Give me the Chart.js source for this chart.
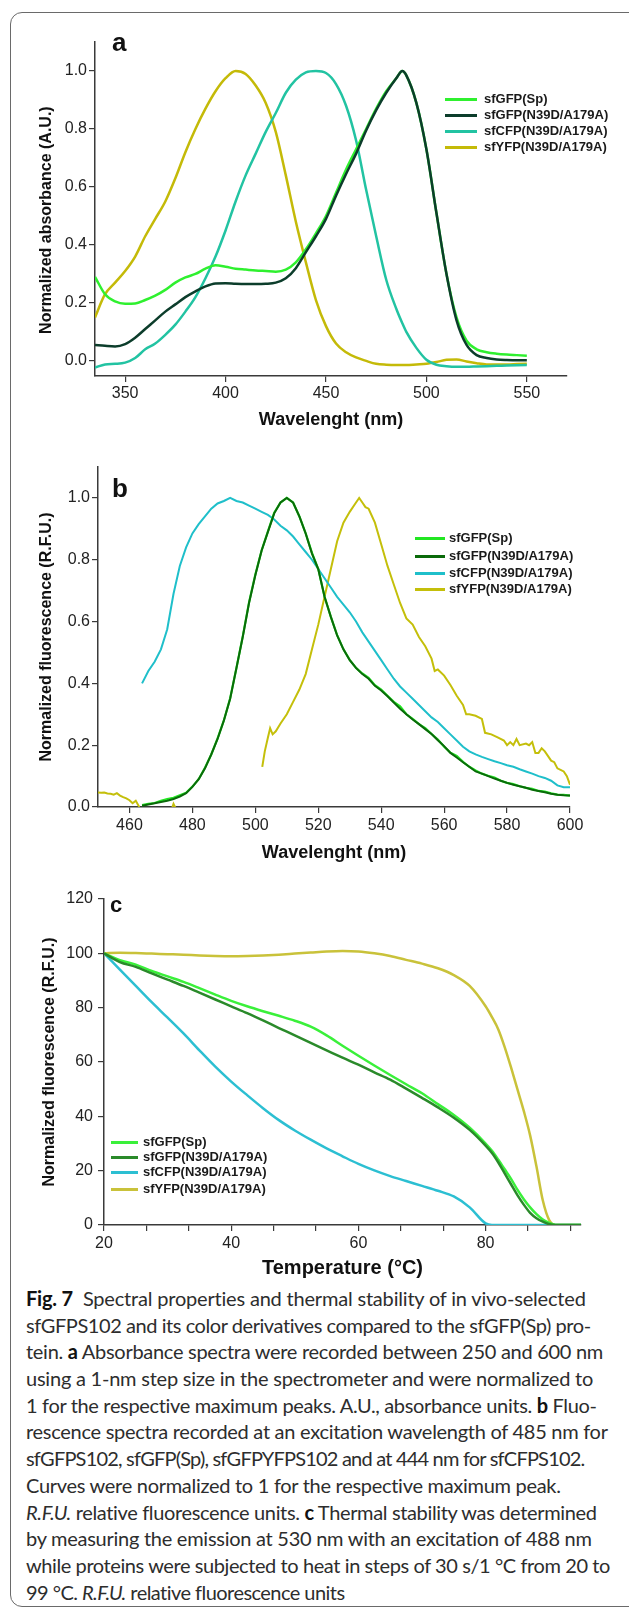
<!DOCTYPE html>
<html>
<head>
<meta charset="utf-8">
<script src="https://cdn.jsdelivr.net/npm/chart.js@4.4.1/dist/chart.umd.min.js"></script>
<style>
  html, body { margin: 0; padding: 0; background: #fff; }
  #page { position: relative; width: 629px; height: 1609px; overflow: hidden; background: #fff; }
  #frame { position: absolute; left: 10px; top: 12px; width: 650px; height: 1595px; border: 1.5px solid #6a6a6a; border-radius: 12px; box-sizing: border-box; }
  canvas { position: absolute; left: 0; }
  .letter { position: absolute; font-family: 'Liberation Sans', Arial, sans-serif; font-weight: bold; line-height: 1; color: #111; }
  .legend-row { position: absolute; height: 16px; white-space: nowrap; font-family: 'Liberation Sans', Arial, sans-serif; font-weight: bold; font-size: 13px; line-height: 16px; color: #1a1a1a; }
  .swatch { position: absolute; top: 6.5px; height: 3px; }
  #caption { position: absolute; left: 26px; top: 1285px; font-family: Lato, sans-serif; font-size: 20px; line-height: 26.7px; color: #2d2d2d; white-space: nowrap; }
  #caption div { height: 26.7px; }
  #caption span.ln { display: inline-block; }
  #caption b { color: #111; }
</style>
</head>
<body>
<div id="page">
  <div id="frame"></div>
  <canvas id="chartA" width="629" height="431" style="top:0px"></canvas>
  <canvas id="chartB" width="629" height="434" style="top:430px"></canvas>
  <canvas id="chartC" width="629" height="416" style="top:864px"></canvas>
  <div class="letter" style="left:112px; top:29px; font-size:26px;">a</div>
  <div class="letter" style="left:112px; top:475px; font-size:26px;">b</div>
  <div class="letter" style="left:110px; top:894px; font-size:22px;">c</div>
  <div id="legends"></div>
  <div id="caption">
    <div><span class="ln"><b>Fig. 7</b>&nbsp; Spectral properties and thermal stability of in vivo-selected</span></div>
    <div><span class="ln">sfGFPS102 and its color derivatives compared to the sfGFP(Sp) pro-</span></div>
    <div><span class="ln">tein. <b>a</b> Absorbance spectra were recorded between 250 and 600 nm</span></div>
    <div><span class="ln">using a 1-nm step size in the spectrometer and were normalized to</span></div>
    <div><span class="ln">1 for the respective maximum peaks. A.U., absorbance units. <b>b</b> Fluo-</span></div>
    <div><span class="ln">rescence spectra recorded at an excitation wavelength of 485 nm for</span></div>
    <div><span class="ln">sfGFPS102, sfGFP(Sp), sfGFPYFPS102 and at 444 nm for sfCFPS102.</span></div>
    <div><span class="ln">Curves were normalized to 1 for the respective maximum peak.</span></div>
    <div><span class="ln"><i>R.F.U.</i> relative fluorescence units. <b>c</b> Thermal stability was determined</span></div>
    <div><span class="ln">by measuring the emission at 530 nm with an excitation of 488 nm</span></div>
    <div><span class="ln">while proteins were subjected to heat in steps of 30 s/1 °C from 20 to</span></div>
    <div><span class="ln">99 °C. <i>R.F.U.</i> relative fluorescence units</span></div>
  </div>
</div>
<script>
// series names (same four in every panel)
const seriesNames = ['sfGFP(Sp)', 'sfGFP(N39D/A179A)', 'sfCFP(N39D/A179A)', 'sfYFP(N39D/A179A)'];

// ---- panel a: absorbance ----
const absWave = [335, 340, 345, 350, 355, 360, 365, 370, 375, 380, 385, 390, 395, 400, 405, 410, 415, 420, 425, 430,
  435, 440, 445, 450, 455, 460, 465, 470, 475, 480, 485, 488, 490, 495, 500, 505, 510, 515, 520, 525, 530, 535, 540, 545, 550];
const absGfpSp = [0.29, 0.23, 0.205, 0.197, 0.198, 0.21, 0.225, 0.245, 0.27, 0.288, 0.30, 0.318, 0.33, 0.325, 0.318, 0.315, 0.312, 0.31, 0.308, 0.315,
  0.34, 0.385, 0.44, 0.50, 0.58, 0.66, 0.73, 0.80, 0.87, 0.93, 0.975, 1.0, 0.985, 0.89, 0.73, 0.51, 0.30, 0.15, 0.07, 0.04, 0.03, 0.025, 0.022, 0.02, 0.018];
const absGfpN39D = [0.055, 0.052, 0.05, 0.058, 0.08, 0.11, 0.14, 0.17, 0.195, 0.22, 0.24, 0.257, 0.267, 0.268, 0.266, 0.265, 0.265, 0.266, 0.27, 0.285,
  0.32, 0.375, 0.43, 0.49, 0.57, 0.645, 0.715, 0.795, 0.865, 0.925, 0.975, 1.0, 0.985, 0.89, 0.73, 0.51, 0.30, 0.14, 0.055, 0.02, 0.01, 0.005, 0.003, 0.002, 0.002];
const absCfp = [-0.023, -0.012, -0.01, -0.006, 0.01, 0.04, 0.06, 0.09, 0.125, 0.17, 0.22, 0.285, 0.36, 0.45, 0.55, 0.64, 0.715, 0.79, 0.855, 0.925,
  0.97, 0.995, 1.0, 0.993, 0.955, 0.88, 0.76, 0.59, 0.43, 0.28, 0.18, 0.13, 0.10, 0.045, 0.004, -0.013, -0.018, -0.02, -0.02, -0.019, -0.018, -0.017, -0.016, -0.015, -0.014];
const absYfp = [0.15, 0.23, 0.27, 0.31, 0.36, 0.43, 0.49, 0.55, 0.63, 0.72, 0.80, 0.87, 0.93, 0.975, 1.0, 0.99, 0.95, 0.89, 0.79, 0.64,
  0.48, 0.34, 0.21, 0.12, 0.06, 0.03, 0.012, 0.0, -0.01, -0.013, -0.014, -0.014, -0.014, -0.012, -0.01, -0.004, 0.004, 0.005, -0.002, -0.008, -0.012, -0.012, -0.012, -0.011, -0.01];
const absYTicks = [0, 0.2, 0.4, 0.6, 0.8, 1.0];
const absXTicks = [350, 400, 450, 500, 550];

// ---- panel b: fluorescence ----
const fluoWaveGfp = [464, 466, 468, 470, 472, 474, 476, 478, 480, 482, 484, 486, 488, 490, 492, 494, 496, 498, 500, 502,
  504, 506, 508, 510, 512, 514, 516, 518, 520, 522, 524, 526, 528, 530, 532, 534, 536, 538, 540, 542,
  544, 546, 548, 550, 552, 554, 556, 558, 560, 562, 564, 566, 568, 570, 572, 574, 576, 578, 580, 582,
  584, 586, 588, 590, 592, 594, 596, 598, 600];
const fluoGfpSp = [0.006, 0.01, 0.013, 0.02, 0.026, 0.03, 0.038, 0.046, 0.066, 0.09, 0.127, 0.17, 0.222, 0.28, 0.352, 0.45, 0.552, 0.662, 0.752, 0.83,
  0.892, 0.952, 0.985, 1.0, 0.985, 0.94, 0.885, 0.822, 0.77, 0.68, 0.615, 0.556, 0.51, 0.476, 0.45, 0.432, 0.418, 0.394, 0.38, 0.36,
  0.34, 0.326, 0.30, 0.285, 0.268, 0.255, 0.236, 0.218, 0.195, 0.176, 0.165, 0.146, 0.13, 0.118, 0.108, 0.101, 0.095, 0.085, 0.078, 0.074,
  0.067, 0.062, 0.059, 0.052, 0.05, 0.044, 0.04, 0.039, 0.037];
const fluoGfpN39D = [0.004, 0.008, 0.012, 0.016, 0.02, 0.026, 0.034, 0.045, 0.065, 0.09, 0.125, 0.17, 0.22, 0.28, 0.35, 0.45, 0.55, 0.66, 0.75, 0.83,
  0.89, 0.95, 0.985, 1.0, 0.985, 0.94, 0.885, 0.82, 0.77, 0.68, 0.615, 0.555, 0.51, 0.475, 0.45, 0.43, 0.415, 0.392, 0.377, 0.358,
  0.338, 0.318, 0.30, 0.283, 0.268, 0.252, 0.236, 0.216, 0.197, 0.175, 0.16, 0.145, 0.13, 0.115, 0.108, 0.1, 0.092, 0.085, 0.078, 0.072,
  0.067, 0.062, 0.056, 0.052, 0.048, 0.043, 0.04, 0.038, 0.037];
const fluoWaveCfp = [464, 466, 468, 470, 472, 474, 476, 478, 480, 482, 484, 486, 488, 490, 492, 494, 496, 498, 500, 502,
  504, 506, 508, 510, 512, 514, 516, 518, 520, 522, 524, 526, 528, 530, 532, 534, 536, 538, 540, 542,
  544, 546, 548, 550, 552, 554, 556, 558, 560, 562, 564, 566, 568, 570, 572, 574, 576, 578, 580, 582,
  584, 586, 588, 590, 592, 594, 596, 598, 600];
const fluoCfp = [0.40, 0.44, 0.47, 0.51, 0.575, 0.69, 0.78, 0.84, 0.885, 0.915, 0.94, 0.965, 0.982, 0.99, 1.0, 0.99, 0.985, 0.975, 0.965, 0.955,
  0.945, 0.93, 0.91, 0.895, 0.875, 0.85, 0.825, 0.80, 0.77, 0.74, 0.71, 0.68, 0.655, 0.63, 0.60, 0.565, 0.535, 0.505, 0.475, 0.445,
  0.415, 0.39, 0.37, 0.35, 0.33, 0.31, 0.29, 0.275, 0.255, 0.235, 0.215, 0.195, 0.18, 0.17, 0.162, 0.155, 0.148, 0.142, 0.135, 0.13,
  0.122, 0.115, 0.108, 0.10, 0.094, 0.085, 0.07, 0.064, 0.064];
const fluoWaveYfp = [450, 451, 452, 453, 454, 455, 456, 457, 458, 459, 460, 461, 462, 463, 463.5, 464,
  473, 474, 474.5, 475, 476,
  502.2, 503, 504, 504.7, 505.5, 506.5, 508, 510, 512, 514, 516, 518, 520, 522, 524, 526, 528, 530, 532, 533,
  534, 535, 536, 538, 540, 542, 544, 546, 548, 550, 552, 554, 556, 557, 558, 560, 562, 564, 566, 567,
  568, 570, 572, 573, 575, 577, 579, 580, 581, 582, 583, 584, 586, 587, 588, 589, 590, 591, 592, 594,
  595, 596, 597, 598, 599, 600];
const fluoYfp = [0.047, 0.046, 0.047, 0.044, 0.043, 0.040, 0.045, 0.037, 0.032, 0.028, 0.022, 0.012, 0.02, 0.002, -0.02, null,
  -0.02, 0.01, 0.0, -0.02, null,
  0.13, 0.18, 0.225, 0.255, 0.235, 0.245, 0.27, 0.30, 0.34, 0.38, 0.43, 0.51, 0.59, 0.68, 0.77, 0.86, 0.92, 0.955, 0.985, 1.0,
  0.985, 0.97, 0.965, 0.92, 0.85, 0.78, 0.72, 0.66, 0.61, 0.59, 0.55, 0.52, 0.48, 0.44, 0.445, 0.425, 0.395, 0.36, 0.33, 0.30,
  0.30, 0.295, 0.285, 0.24, 0.235, 0.225, 0.215, 0.20, 0.21, 0.20, 0.22, 0.20, 0.205, 0.20, 0.21, 0.175, 0.175, 0.19, 0.18, 0.15,
  0.145, 0.125, 0.12, 0.115, 0.10, 0.072];
const fluoYTicks = [0, 0.2, 0.4, 0.6, 0.8, 1.0];
const fluoXTicks = [460, 480, 500, 520, 540, 560, 580, 600];

// ---- panel c: thermal stability ----
const temps = [20, 22.5, 25, 27.5, 30, 32.5, 35, 37.5, 40, 42.5, 45, 47.5, 50, 52.5, 55, 57.5, 60, 62.5, 65, 67.5,
  70, 72.5, 75, 77.5, 80, 81, 82, 83, 84, 85, 86, 87, 88, 89, 90, 91, 92, 93, 94, 95];
const thermGfpSp = [100, 97.5, 95.8, 93.5, 91.5, 89.5, 87.2, 84.8, 82.5, 80.5, 78.7, 77, 75.2, 73, 69.8, 66, 62.3, 58.7, 55.2, 51.8,
  48.5, 44.5, 40.5, 35.8, 30, 27.3, 24, 20.5, 17, 13, 9.5, 6.5, 4, 2, 0.8, 0, 0, 0, 0, 0];
const thermGfpN39D = [100, 96.8, 95, 92.6, 90.3, 88, 85.5, 83, 80.5, 78, 75.3, 72.5, 69.8, 67, 64.3, 61.6, 59, 56.2, 53.5, 50.2,
  46.8, 43.3, 39.5, 35, 29.2, 26.5, 23, 19, 15, 11, 7.5, 4.5, 2.5, 1.2, 0.3, 0, 0, 0, 0, 0];
const thermCfp = [100, 94, 88, 82, 76.3, 70.5, 64.3, 58.3, 52.8, 47.8, 43, 38.6, 34.8, 31.4, 28.2, 25.3, 22.5, 20.1, 18, 16.2,
  14.4, 12.6, 10.5, 6.5, 0.6, 0, 0, 0, 0, 0, 0, 0, 0, 0, 0, 0, 0, 0, 0, 0];
const thermYfp = [100, 100.2, 100.1, 99.9, 99.7, 99.5, 99.2, 99, 98.9, 99, 99.2, 99.5, 99.9, 100.3, 100.7, 100.9, 100.7, 100, 99, 97.6,
  96.2, 94.5, 92, 88, 80.5, 76.5, 72, 65.5, 58, 50, 42, 33, 21.5, 9, 1.8, 0, 0, 0, 0, 0];
const thermYTicks = [0, 20, 40, 60, 80, 100, 120];
const thermXLabels = [20, 40, 60, 80];
const thermXTickStep = 20 / 3;

const FONT = "'Liberation Sans', Arial, sans-serif";
const AXIS = '#3a3a3a';

function pairs(xs, ys) {
  return xs.map((x, i) => ({ x: x, y: ys[i] }));
}

function line(label, xs, ys, color, width, order, smooth) {
  return {
    label: label,
    data: pairs(xs, ys),
    borderColor: color,
    borderWidth: width,
    pointRadius: 0,
    fill: false,
    spanGaps: false,
    order: order,
    tension: smooth ? 0.4 : 0,
    cubicInterpolationMode: smooth ? 'monotone' : 'default'
  };
}

function makeChart(id, cfg) {
  return new Chart(document.getElementById(id), {
    type: 'line',
    data: { datasets: cfg.datasets },
    options: {
      responsive: false,
      animation: false,
      events: [],
      layout: { padding: cfg.padding },
      plugins: { legend: { display: false }, tooltip: { enabled: false } },
      scales: {
        x: {
          type: 'linear',
          min: cfg.xMin,
          max: cfg.xMax,
          afterFit: s => { s.height = cfg.xHeight; },
          afterBuildTicks: s => { s.ticks = cfg.xTicks.map(v => ({ value: v })); },
          grid: { drawOnChartArea: false, drawTicks: true, tickLength: 6, color: AXIS, lineWidth: 1.2 },
          border: { display: true, color: AXIS, width: 1.5 },
          ticks: {
            autoSkip: false, maxRotation: 0, padding: cfg.xPad,
            font: { family: FONT, size: 16 }, color: '#222',
            callback: cfg.xLabel
          },
          title: { display: true, text: cfg.xTitle, color: '#111', padding: 0,
            font: { family: FONT, size: cfg.xTitleSize, weight: 'bold' } }
        },
        y: {
          min: cfg.yMin,
          max: cfg.yMax,
          afterFit: s => { s.width = cfg.yWidth; },
          afterBuildTicks: s => { s.ticks = cfg.yTicks.map(v => ({ value: v })); },
          grid: { drawOnChartArea: false, drawTicks: true, tickLength: 6, color: AXIS, lineWidth: 1.2 },
          border: { display: true, color: AXIS, width: 1.5 },
          ticks: {
            autoSkip: false, padding: cfg.yPad,
            font: { family: FONT, size: 16 }, color: '#222',
            callback: cfg.yLabel
          },
          title: { display: true, text: cfg.yTitle, color: '#111', padding: { top: cfg.yTitlePad, bottom: 0 },
            font: { family: FONT, size: 16, weight: 'bold' } }
        }
      }
    }
  });
}

// panel a
const colorsA = ['#2ff02f', '#0c3d2b', '#22c3a2', '#c4ba08'];
makeChart('chartA', {
  datasets: [
    line(seriesNames[0], absWave, absGfpSp, colorsA[0], 2.5, 2, true),
    line(seriesNames[1], absWave, absGfpN39D, colorsA[1], 2.5, 1, true),
    line(seriesNames[2], absWave, absCfp, colorsA[2], 2.5, 3, true),
    line(seriesNames[3], absWave, absYfp, colorsA[3], 2.5, 4, true)
  ],
  padding: { top: 42, right: 62, bottom: 0, left: 0 },
  xMin: 335, xMax: 570, xTicks: absXTicks, xHeight: 55, xPad: 2,
  xLabel: v => String(v), xTitle: 'Wavelenght (nm)', xTitleSize: 18,
  yMin: -0.052, yMax: 1.1, yTicks: absYTicks, yWidth: 95, yPad: 2,
  yLabel: v => v.toFixed(1), yTitle: 'Normalized absorbance (A.U.)     ', yTitlePad: 37
});

// panel b
const colorsB = ['#22e622', '#0a6a0a', '#1fbfca', '#c4bf0a'];
makeChart('chartB', {
  datasets: [
    line(seriesNames[0], fluoWaveGfp, fluoGfpSp, colorsB[0], 2.2, 2, false),
    line(seriesNames[1], fluoWaveGfp, fluoGfpN39D, colorsB[1], 2, 1, false),
    line(seriesNames[2], fluoWaveCfp, fluoCfp, colorsB[2], 2, 3, false),
    line(seriesNames[3], fluoWaveYfp, fluoYfp, colorsB[3], 2, 4, false)
  ],
  padding: { top: 37, right: 59, bottom: 0, left: 0 },
  xMin: 450, xMax: 600, xTicks: fluoXTicks, xHeight: 57, xPad: 3,
  xLabel: v => String(v), xTitle: 'Wavelenght (nm)', xTitleSize: 18,
  yMin: 0, yMax: 1.1, yTicks: fluoYTicks, yWidth: 98, yPad: 2,
  yLabel: v => v.toFixed(1), yTitle: 'Normalized fluorescence (R.F.U.)', yTitlePad: 37
});

// panel c
const colorsC = ['#3af03a', '#2a8a2a', '#2cbfd2', '#c9c23a'];
const thermXTicks = [];
for (let t = thermXLabels[0]; t < 95; t += thermXTickStep) thermXTicks.push(t);
makeChart('chartC', {
  datasets: [
    line(seriesNames[0], temps, thermGfpSp, colorsC[0], 2.5, 2, true),
    line(seriesNames[1], temps, thermGfpN39D, colorsC[1], 2.5, 1, true),
    line(seriesNames[2], temps, thermCfp, colorsC[2], 2.5, 3, true),
    line(seriesNames[3], temps, thermYfp, colorsC[3], 2.5, 4, true)
  ],
  padding: { top: 35, right: 48, bottom: 0, left: 0 },
  xMin: 20, xMax: 95, xTicks: thermXTicks, xHeight: 55, xPad: 3,
  xLabel: v => (thermXLabels.some(l => Math.abs(l - v) < 1e-6) ? String(Math.round(v)) : ''),
  xTitle: 'Temperature (°C)', xTitleSize: 20,
  yMin: 0, yMax: 120, yTicks: thermYTicks, yWidth: 104, yPad: 5,
  yLabel: v => String(v), yTitle: 'Normalized fluorescence (R.F.U.)', yTitlePad: 40
});

// legends (html, drawn from the same names and colours)
const legendSpots = [
  { colors: colorsA, lineX: 445, lineW: 32, textX: 484, rows: [99, 115, 131, 147] },
  { colors: colorsB, lineX: 415, lineW: 30, textX: 449, rows: [538, 556, 573, 589] },
  { colors: colorsC, lineX: 111, lineW: 27, textX: 143, rows: [1142, 1157, 1172, 1189] }
];
const legendBox = document.getElementById('legends');
legendSpots.forEach(spot => {
  seriesNames.forEach((name, i) => {
    const row = document.createElement('div');
    row.className = 'legend-row';
    row.style.left = spot.lineX + 'px';
    row.style.top = (spot.rows[i] - 8) + 'px';
    const sw = document.createElement('span');
    sw.className = 'swatch';
    sw.style.left = '0px';
    sw.style.width = spot.lineW + 'px';
    sw.style.background = spot.colors[i];
    const tx = document.createElement('span');
    tx.style.position = 'absolute';
    tx.style.left = (spot.textX - spot.lineX) + 'px';
    tx.textContent = name;
    row.appendChild(sw);
    row.appendChild(tx);
    legendBox.appendChild(row);
  });
});

// caption: stretch each line to the right edge it has in the print layout
const captionRightEdges = [586, 591, 603, 593, 597, 608, 581, 561, 597, 592, 610, 345];
document.querySelectorAll('#caption span.ln').forEach((ln, i) => {
  const target = captionRightEdges[i] - 26;
  const w = ln.getBoundingClientRect().width;
  const n = ln.textContent.length;
  const ls = Math.max(-0.8, Math.min(0.8, (target - w) / n));
  ln.style.letterSpacing = ls.toFixed(3) + 'px';
});
</script>
</body>
</html>
